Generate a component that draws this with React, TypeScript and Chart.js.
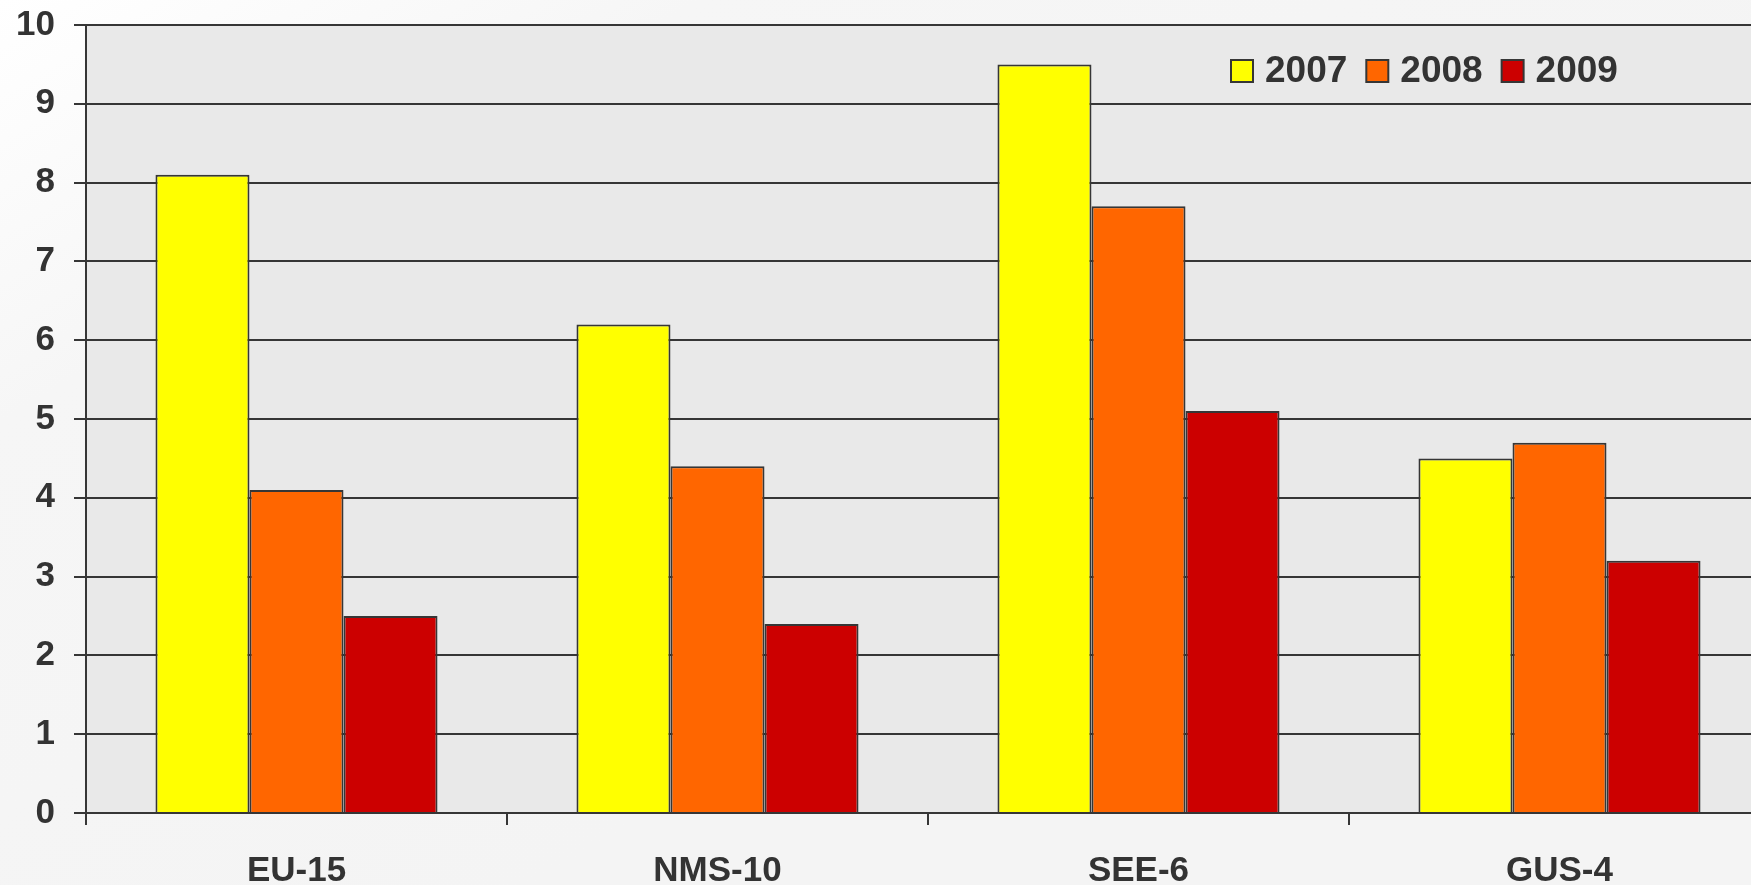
import React, { useEffect, useRef } from "react";
import { Chart, registerables } from "chart.js";

Chart.register(...registerables);

const categories = ["EU-15", "NMS-10", "SEE-6", "GUS-4"];
const seriesLabels = ["2007", "2008", "2009"];
const values2007 = [8.1, 6.2, 9.5, 4.5];
const values2008 = [4.1, 4.4, 7.7, 4.7];
const values2009 = [2.5, 2.4, 5.1, 3.2];
const seriesColors = ["#ffff00", "#ff6600", "#cc0000"];
const yMin = 0;
const yMax = 10;
const yStep = 1;

const FONT = "'Liberation Sans', Arial, sans-serif";
const TEXT = "#333333";
const LINE = "#363636";

const backgroundPlugin = {
  id: "bgPlugin",
  beforeDraw(chart: any) {
    const { ctx, width, height, chartArea } = chart;
    ctx.save();
    const g = ctx.createLinearGradient(0, 0, width * 0.3, height);
    g.addColorStop(0, "#ffffff");
    g.addColorStop(0.35, "#f6f6f6");
    g.addColorStop(1, "#f4f4f4");
    ctx.fillStyle = g;
    ctx.fillRect(0, 0, width, height);
    ctx.fillStyle = "#e9e9e9";
    ctx.fillRect(chartArea.left, chartArea.top, chartArea.right - chartArea.left, chartArea.bottom - chartArea.top);
    ctx.restore();
  },
};

const legendPlugin = {
  id: "customLegend",
  afterDraw(chart: any) {
    const { ctx } = chart;
    ctx.save();
    ctx.font = `bold 37px ${FONT}`;
    ctx.textBaseline = "middle";
    ctx.textAlign = "left";
    let x = 1231;
    const boxTop = 60;
    const box = 22;
    chart.data.datasets.forEach((ds: any) => {
      ctx.fillStyle = ds.backgroundColor;
      ctx.fillRect(x, boxTop, box, box);
      ctx.strokeStyle = LINE;
      ctx.lineWidth = 2;
      ctx.strokeRect(x, boxTop, box, box);
      const tx = x + box + 12;
      ctx.fillStyle = TEXT;
      ctx.fillText(ds.label, tx, boxTop + box / 2 + 1);
      const w = ctx.measureText(ds.label).width;
      x = tx + w + 19;
    });
    ctx.restore();
  },
};

export default function App() {
  const ref = useRef<HTMLCanvasElement | null>(null);

  useEffect(() => {
    if (!ref.current) return;
    const seriesValues = [values2007, values2008, values2009];
    const chart = new Chart(ref.current, {
      type: "bar",
      data: {
        labels: categories,
        datasets: seriesLabels.map((label, i) => ({
          label,
          data: seriesValues[i],
          backgroundColor: seriesColors[i],
          borderColor: LINE,
          borderWidth: 2,
          categoryPercentage: 0.67,
          barPercentage: 1,
        })),
      },
      options: {
        responsive: false,
        animation: false,
        devicePixelRatio: 1,
        layout: { padding: { top: 25, right: 10, left: 0, bottom: 0 } },
        plugins: {
          legend: { display: false },
          tooltip: { enabled: false },
        },
        scales: {
          x: {
            grid: {
              offset: true,
              drawOnChartArea: false,
              drawTicks: true,
              tickLength: 12,
              color: LINE,
              lineWidth: 2,
            },
            border: { display: true, color: LINE, width: 2 },
            ticks: {
              color: TEXT,
              font: { family: FONT, size: 35, weight: "bold" },
              padding: 25,
              maxRotation: 0,
            },
            afterFit: (s: any) => {
              s.height = 72;
              s.paddingLeft = 0;
              s.paddingRight = 0;
            },
          },
          y: {
            min: yMin,
            max: yMax,
            grid: {
              color: LINE,
              lineWidth: 2,
              tickLength: 12,
              drawTicks: true,
            },
            border: { display: true, color: LINE, width: 2 },
            ticks: {
              stepSize: yStep,
              color: TEXT,
              font: { family: FONT, size: 35, weight: "bold" },
              padding: 19,
            },
            afterFit: (s: any) => {
              s.width = 86;
              s.paddingTop = 0;
              s.paddingBottom = 0;
            },
          },
        },
      },
      plugins: [backgroundPlugin, legendPlugin],
    });
    return () => chart.destroy();
  }, []);

  return (
    <div
      style={{
        position: "fixed",
        left: 0,
        top: 0,
        width: 1751,
        height: 885,
        overflow: "hidden",
        background: "#f5f5f5",
      }}
    >
      <canvas ref={ref} width={1780} height={885} style={{ display: "block", width: 1780, height: 885 }} />
    </div>
  );
}
